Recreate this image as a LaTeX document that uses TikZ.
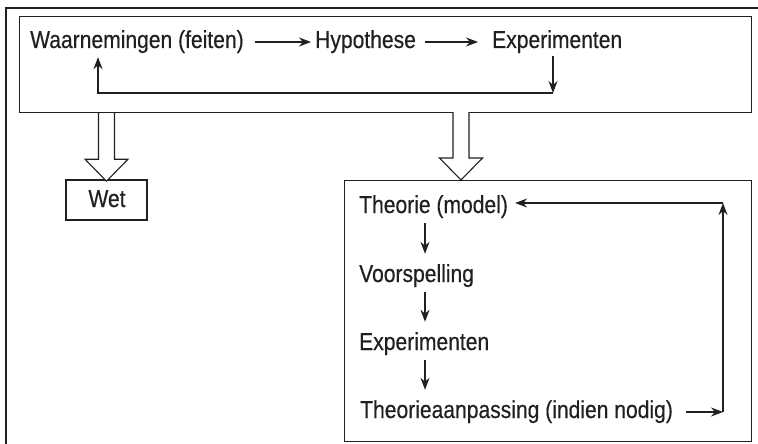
\documentclass[tikz,border=0pt]{standalone}
\usepackage{fontspec}
\setmainfont[FakeStretch=0.86, FakeBold=0.4]{Liberation Sans}
\usetikzlibrary{positioning, arrows.meta}
\definecolor{inkt}{HTML}{231F20}
\tikzset{
  stap/.style={inner sep=0pt, anchor=base west, text height=18pt, text depth=6pt,
    font=\fontsize{24.5}{26}\selectfont, text=inkt},
  kader/.style={draw=inkt, line width=1.2pt, inner sep=0pt},
  pijl/.style={draw=inkt, line width=1.1pt, -{Stealth[length=12pt, width=9pt]}},
  blok/.style={draw=inkt, line width=1.1pt, fill=white, line join=miter},
}
\newcommand{\blokpijl}[1]{%
  \draw[blok] (#1) ++(-8,0) -- ++(0,46) -- ++(-13.5,0) -- ++(21.5,22)
    -- ++(21.5,-22) -- ++(-13.5,0) -- ++(0,-46);}

\begin{document}
\begin{tikzpicture}[x=1pt, y=-1pt]
  \useasboundingbox (0,0) rectangle (758,444);
  % buitenrand
  \draw[inkt, line width=1.4pt] (6,444) -- (6,8) -- (758,8);

  % bovenste kader
  \node[kader, anchor=north west, minimum width=732pt, minimum height=96pt] (boven) at (19,16) {};
  \node[stap] (waarn) at (30,48) {Waarnemingen (feiten)};
  \node[stap] (hypo) at (315,48) {Hypothese};
  \node[stap] (exper) at (492,48) {Experimenten};
  \draw[pijl, shorten <=11pt, shorten >=4pt] (waarn.east) -- (hypo.west);
  \draw[pijl, shorten <=9pt, shorten >=14pt] (hypo.east) -- (exper.west);
  \coordinate (lusR) at (553,93);
  \coordinate (lusL) at (98,93);
  \draw[pijl, shorten <=2pt] (exper.south -| lusR) -- (lusR);
  \draw[pijl, shorten >=3pt] (lusR) -- (lusL) -- (waarn.south -| lusL);

  % wet
  \node[kader, minimum width=81pt, minimum height=40pt] (wet) at (106.5,200) {};
  \node[stap, anchor=base] (wettxt) at (107,207) {Wet};
  \blokpijl{boven.south -| wet.north}

  % theorie
  \node[kader, anchor=north west, minimum width=407pt, minimum height=261pt] (theoriebox) at (344,180) {};
  \coordinate (blokR) at (461,112);
  \blokpijl{blokR}
  \node[stap] (theorie) at (359,213) {Theorie (model)};
  \node[stap] (voorsp) at (359,282) {Voorspelling};
  \node[stap] (exper2) at (359,350) {Experimenten};
  \node[stap] (aanp) at (360,418) {Theorieaanpassing (indien nodig)};
  \coordinate (pijlx) at (425,0);
  \draw[pijl, shorten <=4pt, shorten >=10pt] (theorie.south -| pijlx) -- (voorsp.north -| pijlx);
  \draw[pijl, shorten <=4pt, shorten >=10pt] (voorsp.south -| pijlx) -- (exper2.north -| pijlx);
  \draw[pijl, shorten <=4pt, shorten >=10pt] (exper2.south -| pijlx) -- (aanp.north -| pijlx);
  \coordinate (rondO) at (723,412);
  \coordinate (rondB) at (723,203);
  \draw[pijl, shorten <=13pt] (aanp.east) -- (rondO);
  \draw[pijl] (rondO) -- (rondB);
  \draw[pijl, shorten >=7pt] (rondB) -- (theorie.east |- rondB);
\end{tikzpicture}
\end{document}
